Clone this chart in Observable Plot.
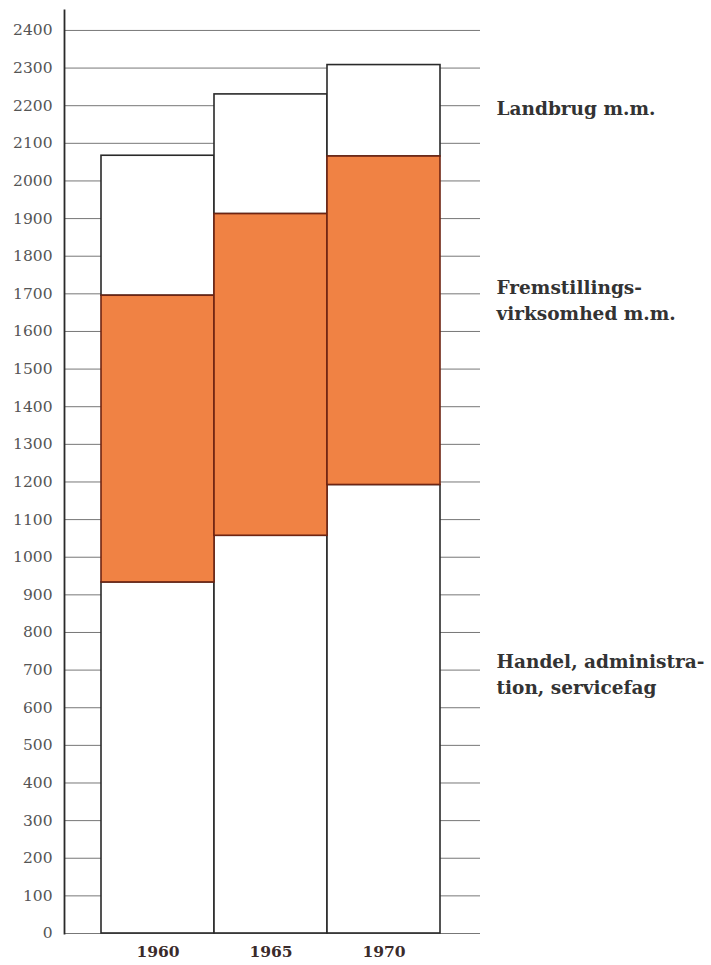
<!DOCTYPE html>
<html>
<head>
<meta charset="utf-8">
<script src="https://cdn.jsdelivr.net/npm/d3@7"></script>
<script src="https://cdn.jsdelivr.net/npm/@observablehq/plot@0.6"></script>
<style>
  html, body { margin: 0; padding: 0; background: #fff; }
  #chart svg { display: block; }
</style>
</head>
<body>
<div id="chart"></div>
<script>
// --- data ---
const years = ["1960", "1965", "1970"];
const categories = ["Handel, administration, servicefag", "Fremstillingsvirksomhed m.m.", "Landbrug m.m."];
const handel = [933, 1057, 1192];
const fremstilling = [762, 855, 873];
const landbrug = [372, 318, 243];
const yTicks = [0,100,200,300,400,500,600,700,800,900,1000,1100,1200,1300,1400,1500,1600,1700,1800,1900,2000,2100,2200,2300,2400];
const labelTexts = ["Landbrug m.m.", "Fremstillings-\nvirksomhed m.m.", "Handel, administra-\ntion, servicefag"];
const labelY = [2198, 1688, 694];

// stacked rows
const series = [handel, fremstilling, landbrug];
const rows = [];
years.forEach((yr, i) => {
  let base = 0;
  categories.forEach((cat, j) => {
    const v = series[j][i];
    rows.push({year: yr, cat, y1: base, y2: base + v, orange: j === 1});
    base += v;
  });
});
const labels = labelTexts.map((t, i) => ({text: t, y: labelY[i]}));

const ORANGE = "#f08244";
const serif = "'DejaVu Serif', 'Liberation Serif', serif";

const chart = Plot.plot({
  width: 711,
  height: 965,
  marginTop: 10,
  marginBottom: 32,
  marginLeft: 64,
  marginRight: 231,
  style: {fontFamily: serif, background: "#fff"},
  x: {domain: years, range: [101, 440.5], padding: 0, label: null},
  y: {domain: [0, 2453], label: null},
  marks: [
    Plot.ruleY(yTicks, {stroke: "#777", strokeWidth: 1}),
    Plot.rectY(rows.filter(d => !d.orange), {x: "year", y1: "y1", y2: "y2", fill: "white", stroke: "#2a2a2a", strokeWidth: 1.6}),
    Plot.rectY(rows.filter(d => d.orange), {x: "year", y1: "y1", y2: "y2", fill: ORANGE, stroke: "#6e2412", strokeWidth: 1.6}),
    Plot.ruleY([0], {stroke: "#2a2a2a", strokeWidth: 1.8, dx: 0, x1: null}),
    Plot.frame({anchor: "left", stroke: "#2a2a2a", strokeWidth: 1.8}),
    Plot.axisY({ticks: yTicks, tickSize: 0, tickPadding: 12, fontSize: 15.5, fill: "#555", label: null, tickFormat: d => String(d), style: {letterSpacing: "1px"}}),
    Plot.axisX({tickSize: 0, tickPadding: 12, fontSize: 15.5, fontWeight: "bold", fill: "#3a2b2b", label: null}),
    Plot.text(labels, {y: "y", text: "text", frameAnchor: "right", dx: 16, textAnchor: "start", fontSize: 18.5, fontWeight: "bold", fill: "#333", lineHeight: 1.45})
  ]
});
document.getElementById("chart").appendChild(chart);
</script>
</body>
</html>
